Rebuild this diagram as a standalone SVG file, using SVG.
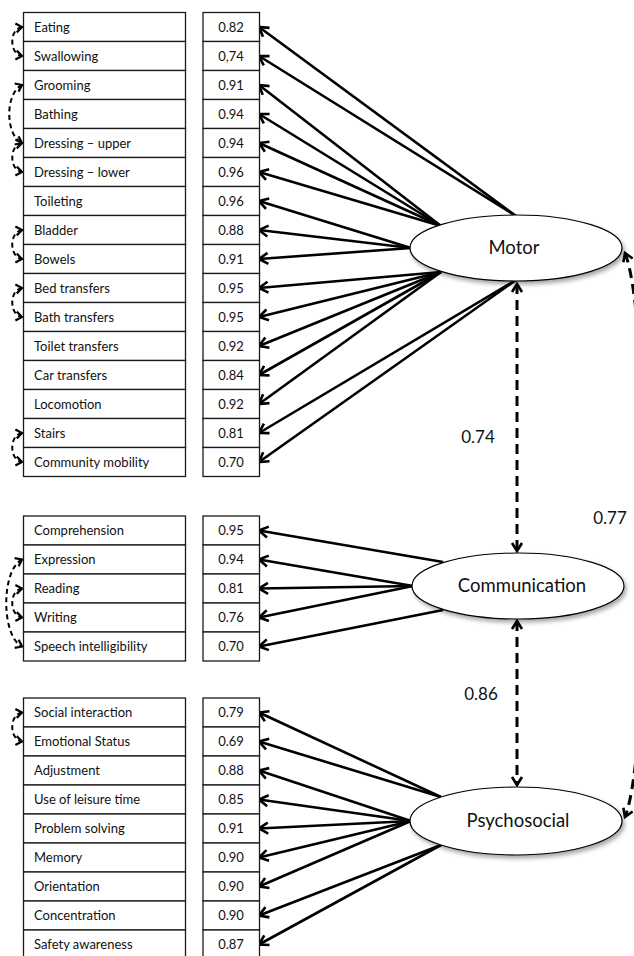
<svg xmlns="http://www.w3.org/2000/svg" width="634" height="956" viewBox="0 0 634 956">
<style>
.bx{fill:#fff;stroke:#1a1a1a;stroke-width:1.3}
.lb{font-family:Lato,"Open Sans","Liberation Sans",sans-serif;font-size:13px;fill:#111}
.vl{font-family:Lato,"Open Sans","Liberation Sans",sans-serif;font-size:13px;fill:#111;text-anchor:middle}
.big{font-family:Lato,"Open Sans","Liberation Sans",sans-serif;font-size:17px;fill:#111}
.nm{font-family:Lato,"Open Sans","Liberation Sans",sans-serif;font-size:18.5px;fill:#111;text-anchor:middle}
.ln{fill:none;stroke:#000;stroke-width:2.6;marker-end:url(#ah)}
.dv{fill:none;stroke:#000;stroke-width:3;stroke-dasharray:10 6;marker-start:url(#ahd);marker-end:url(#ahd)}
.dc{fill:none;stroke:#000;stroke-width:2;stroke-dasharray:5 3.5;marker-start:url(#ahs);marker-end:url(#ahs)}
.el{fill:#fff;stroke:#000;stroke-width:1.2;filter:url(#sh)}
</style>
<defs>
<marker id="ah" viewBox="-12 -8 16 16" markerWidth="16" markerHeight="16" markerUnits="userSpaceOnUse" refX="0" refY="0" orient="auto"><path d="M-9,-5.5 L0,0 L-9,5.5" fill="none" stroke="#000" stroke-width="2.6"/></marker>
<marker id="ahd" viewBox="-12 -8 16 16" markerWidth="16" markerHeight="16" markerUnits="userSpaceOnUse" refX="0" refY="0" orient="auto-start-reverse"><path d="M-8,-5 L0,0 L-8,5" fill="none" stroke="#000" stroke-width="2.6"/></marker>
<marker id="ahs" viewBox="-10 -7 13 14" markerWidth="13" markerHeight="14" markerUnits="userSpaceOnUse" refX="0" refY="0" orient="auto-start-reverse"><path d="M-6,-4.5 L0,0 L-6,4.5" fill="none" stroke="#000" stroke-width="2.2"/></marker>
<filter id="sh" x="-10%" y="-20%" width="125%" height="150%"><feDropShadow dx="2" dy="3" stdDeviation="2" flood-color="#000" flood-opacity="0.35"/></filter>
</defs>

<g id="connectors">
<path class="ln" d="M516,216 L259,27"/>
<path class="ln" d="M516,216 L259,56"/>
<path class="ln" d="M441,226 L259,85"/>
<path class="ln" d="M441,226 L259,114"/>
<path class="ln" d="M441,226 L259,143"/>
<path class="ln" d="M441,226 L259,172"/>
<path class="ln" d="M411,248 L259,201"/>
<path class="ln" d="M411,248 L259,230"/>
<path class="ln" d="M411,248 L259,259"/>
<path class="ln" d="M441,272 L259,288"/>
<path class="ln" d="M441,272 L259,317"/>
<path class="ln" d="M441,272 L259,346"/>
<path class="ln" d="M441,272 L259,375"/>
<path class="ln" d="M441,272 L259,404"/>
<path class="ln" d="M516,280 L259,433"/>
<path class="ln" d="M516,280 L259,462"/>
<path class="ln" d="M443,562 L259,530.5"/>
<path class="ln" d="M413,586 L259,559.5"/>
<path class="ln" d="M413,586 L259,588.5"/>
<path class="ln" d="M413,586 L259,617.5"/>
<path class="ln" d="M443,610 L259,646.5"/>
<path class="ln" d="M441,797 L259,712.5"/>
<path class="ln" d="M441,797 L259,741.5"/>
<path class="ln" d="M411,821 L259,770.5"/>
<path class="ln" d="M411,821 L259,799.5"/>
<path class="ln" d="M411,821 L259,828.5"/>
<path class="ln" d="M411,821 L259,857.5"/>
<path class="ln" d="M411,821 L259,886.5"/>
<path class="ln" d="M441,845 L259,915.5"/>
<path class="ln" d="M441,845 L259,944.5"/>
<path class="dv" d="M517,284 L517,551"/>
<path class="dv" d="M517,621 L517,785"/>
<path class="dv" d="M625,253 C652,320 652,750 625,817"/>
<path class="dc" d="M22,27 C9,29 9,54 22,56"/>
<path class="dc" d="M22,85 C5,93 5,135 22,143"/>
<path class="dc" d="M22,143 C9,145 9,170 22,172"/>
<path class="dc" d="M22,230 C9,232 9,257 22,259"/>
<path class="dc" d="M22,288 C9,290 9,315 22,317"/>
<path class="dc" d="M22,433 C9,435 9,460 22,462"/>
<path class="dc" d="M22,559.5 C1,570 1,636 22,646.5"/>
<path class="dc" d="M22,588.5 C9,590.5 9,615.5 22,617.5"/>
<path class="dc" d="M22,712.5 C9,714.5 9,739.5 22,741.5"/>
<text class="big" x="478" y="443" text-anchor="middle">0.74</text>
<text class="big" x="481" y="700" text-anchor="middle">0.86</text>
<text class="big" x="610" y="524" text-anchor="middle">0.77</text>
</g>

<g id="motor"><ellipse class="el" cx="516" cy="248" rx="106" ry="33"/><text class="nm" x="514" y="254">Motor</text></g>
<g id="communication"><ellipse class="el" cx="518" cy="586" rx="106" ry="33"/><text class="nm" x="522" y="592">Communication</text></g>
<g id="psychosocial"><ellipse class="el" cx="516" cy="821" rx="106" ry="34"/><text class="nm" x="518" y="827">Psychosocial</text></g>

<g id="item-eating"><rect class="bx" x="23.5" y="12.5" width="162" height="29"/><text class="lb" x="34" y="31.5">Eating</text><rect class="bx" x="203" y="12.5" width="56.5" height="29"/><text class="vl" x="231" y="31.5">0.82</text></g>
<g id="item-swallowing"><rect class="bx" x="23.5" y="41.5" width="162" height="29"/><text class="lb" x="34" y="60.5">Swallowing</text><rect class="bx" x="203" y="41.5" width="56.5" height="29"/><text class="vl" x="231" y="60.5">0,74</text></g>
<g id="item-grooming"><rect class="bx" x="23.5" y="70.5" width="162" height="29"/><text class="lb" x="34" y="89.5">Grooming</text><rect class="bx" x="203" y="70.5" width="56.5" height="29"/><text class="vl" x="231" y="89.5">0.91</text></g>
<g id="item-bathing"><rect class="bx" x="23.5" y="99.5" width="162" height="29"/><text class="lb" x="34" y="118.5">Bathing</text><rect class="bx" x="203" y="99.5" width="56.5" height="29"/><text class="vl" x="231" y="118.5">0.94</text></g>
<g id="item-dressing-upper"><rect class="bx" x="23.5" y="128.5" width="162" height="29"/><text class="lb" x="34" y="147.5">Dressing – upper</text><rect class="bx" x="203" y="128.5" width="56.5" height="29"/><text class="vl" x="231" y="147.5">0.94</text></g>
<g id="item-dressing-lower"><rect class="bx" x="23.5" y="157.5" width="162" height="29"/><text class="lb" x="34" y="176.5">Dressing – lower</text><rect class="bx" x="203" y="157.5" width="56.5" height="29"/><text class="vl" x="231" y="176.5">0.96</text></g>
<g id="item-toileting"><rect class="bx" x="23.5" y="186.5" width="162" height="29"/><text class="lb" x="34" y="205.5">Toileting</text><rect class="bx" x="203" y="186.5" width="56.5" height="29"/><text class="vl" x="231" y="205.5">0.96</text></g>
<g id="item-bladder"><rect class="bx" x="23.5" y="215.5" width="162" height="29"/><text class="lb" x="34" y="234.5">Bladder</text><rect class="bx" x="203" y="215.5" width="56.5" height="29"/><text class="vl" x="231" y="234.5">0.88</text></g>
<g id="item-bowels"><rect class="bx" x="23.5" y="244.5" width="162" height="29"/><text class="lb" x="34" y="263.5">Bowels</text><rect class="bx" x="203" y="244.5" width="56.5" height="29"/><text class="vl" x="231" y="263.5">0.91</text></g>
<g id="item-bed-transfers"><rect class="bx" x="23.5" y="273.5" width="162" height="29"/><text class="lb" x="34" y="292.5">Bed transfers</text><rect class="bx" x="203" y="273.5" width="56.5" height="29"/><text class="vl" x="231" y="292.5">0.95</text></g>
<g id="item-bath-transfers"><rect class="bx" x="23.5" y="302.5" width="162" height="29"/><text class="lb" x="34" y="321.5">Bath transfers</text><rect class="bx" x="203" y="302.5" width="56.5" height="29"/><text class="vl" x="231" y="321.5">0.95</text></g>
<g id="item-toilet-transfers"><rect class="bx" x="23.5" y="331.5" width="162" height="29"/><text class="lb" x="34" y="350.5">Toilet transfers</text><rect class="bx" x="203" y="331.5" width="56.5" height="29"/><text class="vl" x="231" y="350.5">0.92</text></g>
<g id="item-car-transfers"><rect class="bx" x="23.5" y="360.5" width="162" height="29"/><text class="lb" x="34" y="379.5">Car transfers</text><rect class="bx" x="203" y="360.5" width="56.5" height="29"/><text class="vl" x="231" y="379.5">0.84</text></g>
<g id="item-locomotion"><rect class="bx" x="23.5" y="389.5" width="162" height="29"/><text class="lb" x="34" y="408.5">Locomotion</text><rect class="bx" x="203" y="389.5" width="56.5" height="29"/><text class="vl" x="231" y="408.5">0.92</text></g>
<g id="item-stairs"><rect class="bx" x="23.5" y="418.5" width="162" height="29"/><text class="lb" x="34" y="437.5">Stairs</text><rect class="bx" x="203" y="418.5" width="56.5" height="29"/><text class="vl" x="231" y="437.5">0.81</text></g>
<g id="item-community-mobility"><rect class="bx" x="23.5" y="447.5" width="162" height="29"/><text class="lb" x="34" y="466.5">Community mobility</text><rect class="bx" x="203" y="447.5" width="56.5" height="29"/><text class="vl" x="231" y="466.5">0.70</text></g>

<g id="item-comprehension"><rect class="bx" x="23.5" y="516" width="162" height="29"/><text class="lb" x="34" y="535">Comprehension</text><rect class="bx" x="203" y="516" width="56.5" height="29"/><text class="vl" x="231" y="535">0.95</text></g>
<g id="item-expression"><rect class="bx" x="23.5" y="545" width="162" height="29"/><text class="lb" x="34" y="564">Expression</text><rect class="bx" x="203" y="545" width="56.5" height="29"/><text class="vl" x="231" y="564">0.94</text></g>
<g id="item-reading"><rect class="bx" x="23.5" y="574" width="162" height="29"/><text class="lb" x="34" y="593">Reading</text><rect class="bx" x="203" y="574" width="56.5" height="29"/><text class="vl" x="231" y="593">0.81</text></g>
<g id="item-writing"><rect class="bx" x="23.5" y="603" width="162" height="29"/><text class="lb" x="34" y="622">Writing</text><rect class="bx" x="203" y="603" width="56.5" height="29"/><text class="vl" x="231" y="622">0.76</text></g>
<g id="item-speech"><rect class="bx" x="23.5" y="632" width="162" height="29"/><text class="lb" x="34" y="651">Speech intelligibility</text><rect class="bx" x="203" y="632" width="56.5" height="29"/><text class="vl" x="231" y="651">0.70</text></g>

<g id="item-social-interaction"><rect class="bx" x="23.5" y="698" width="162" height="29"/><text class="lb" x="34" y="717">Social interaction</text><rect class="bx" x="203" y="698" width="56.5" height="29"/><text class="vl" x="231" y="717">0.79</text></g>
<g id="item-emotional-status"><rect class="bx" x="23.5" y="727" width="162" height="29"/><text class="lb" x="34" y="746">Emotional Status</text><rect class="bx" x="203" y="727" width="56.5" height="29"/><text class="vl" x="231" y="746">0.69</text></g>
<g id="item-adjustment"><rect class="bx" x="23.5" y="756" width="162" height="29"/><text class="lb" x="34" y="775">Adjustment</text><rect class="bx" x="203" y="756" width="56.5" height="29"/><text class="vl" x="231" y="775">0.88</text></g>
<g id="item-leisure"><rect class="bx" x="23.5" y="785" width="162" height="29"/><text class="lb" x="34" y="804">Use of leisure time</text><rect class="bx" x="203" y="785" width="56.5" height="29"/><text class="vl" x="231" y="804">0.85</text></g>
<g id="item-problem-solving"><rect class="bx" x="23.5" y="814" width="162" height="29"/><text class="lb" x="34" y="833">Problem solving</text><rect class="bx" x="203" y="814" width="56.5" height="29"/><text class="vl" x="231" y="833">0.91</text></g>
<g id="item-memory"><rect class="bx" x="23.5" y="843" width="162" height="29"/><text class="lb" x="34" y="862">Memory</text><rect class="bx" x="203" y="843" width="56.5" height="29"/><text class="vl" x="231" y="862">0.90</text></g>
<g id="item-orientation"><rect class="bx" x="23.5" y="872" width="162" height="29"/><text class="lb" x="34" y="891">Orientation</text><rect class="bx" x="203" y="872" width="56.5" height="29"/><text class="vl" x="231" y="891">0.90</text></g>
<g id="item-concentration"><rect class="bx" x="23.5" y="901" width="162" height="29"/><text class="lb" x="34" y="920">Concentration</text><rect class="bx" x="203" y="901" width="56.5" height="29"/><text class="vl" x="231" y="920">0.90</text></g>
<g id="item-safety"><rect class="bx" x="23.5" y="930" width="162" height="29"/><text class="lb" x="34" y="949">Safety awareness</text><rect class="bx" x="203" y="930" width="56.5" height="29"/><text class="vl" x="231" y="949">0.87</text></g>
</svg>
